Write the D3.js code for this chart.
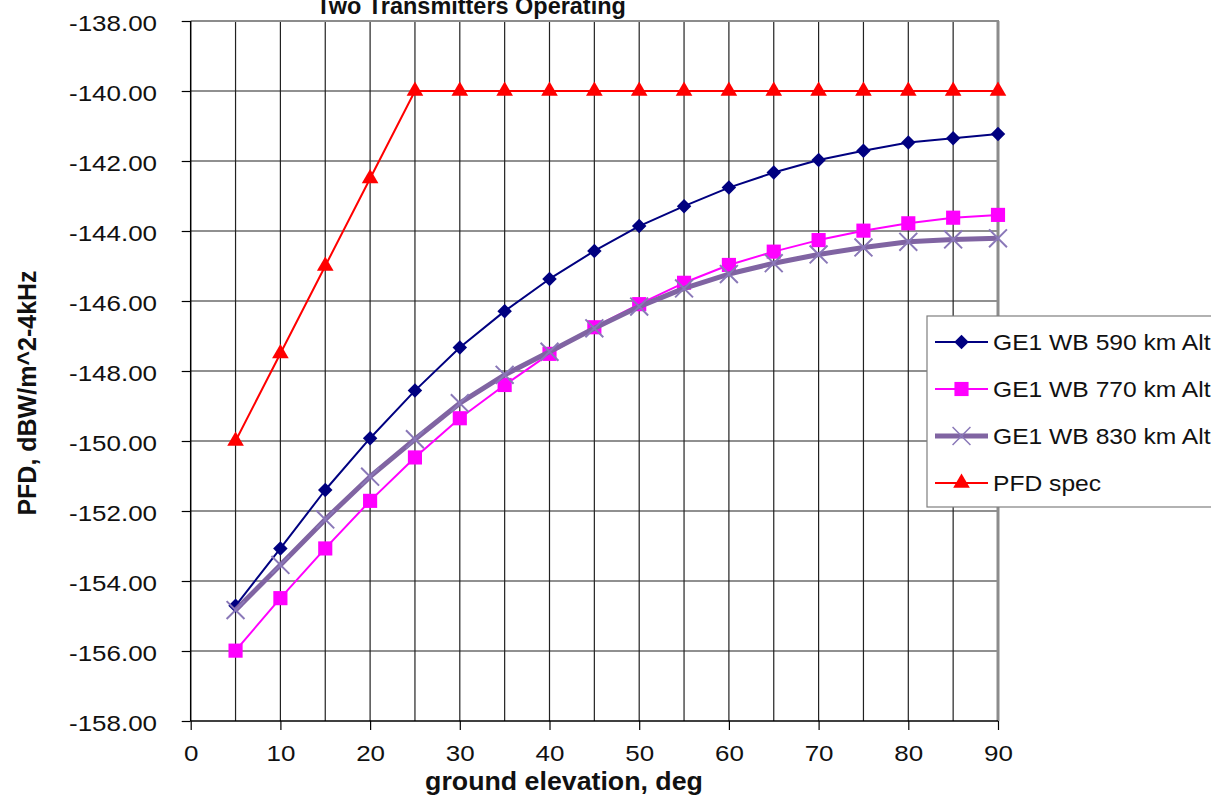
<!DOCTYPE html>
<html>
<head>
<meta charset="utf-8">
<script src="https://cdn.jsdelivr.net/npm/d3@7"></script>
<style>
    body { margin: 0; background: #fff; }
    svg { display: block; font-family: "Liberation Sans", Arial, sans-serif; }
</style>
</head>
<body>
<svg id="chart" width="1211" height="801"></svg>
<script>
// elevation angles, deg
var elevation = [5, 10, 15, 20, 25, 30, 35, 40, 45, 50, 55, 60, 65, 70, 75, 80, 85, 90];

var alt590 = [-154.71, -153.07, -151.40, -149.92, -148.56, -147.33, -146.29, -145.37, -144.57,
    -143.86, -143.29, -142.76, -142.33, -141.97, -141.71, -141.47, -141.35, -141.23];
var alt770 = [-155.99, -154.49, -153.07, -151.71, -150.47, -149.35, -148.40, -147.51, -146.75,
    -146.09, -145.48, -144.97, -144.59, -144.26, -143.99, -143.78, -143.62, -143.54];
var alt830 = [-154.83, -153.54, -152.24, -151.02, -149.95, -148.92, -148.11, -147.45, -146.78,
    -146.16, -145.64, -145.23, -144.92, -144.67, -144.47, -144.31, -144.24, -144.21];
var pfdSpec = [-150, -147.5, -145, -142.5, -140, -140, -140, -140, -140,
    -140, -140, -140, -140, -140, -140, -140, -140, -140];

var seriesNames = ['GE1 WB 590 km Alt', 'GE1 WB 770 km Alt', 'GE1 WB 830 km Alt', 'PFD spec'];

var xTicks = [0, 10, 20, 30, 40, 50, 60, 70, 80, 90];
var xGrid = [5, 10, 15, 20, 25, 30, 35, 40, 45, 50, 55, 60, 65, 70, 75, 80, 85];
var yTicks = [-158, -156, -154, -152, -150, -148, -146, -144, -142, -140, -138];

var plotLeft = 190.7, plotRight = 998, plotTop = 21, plotBottom = 721;

var svg = d3.select('#chart');

var x = d3.scaleLinear().domain([0, 90]).range([plotLeft, plotRight]);
var y = d3.scaleLinear().domain([-158, -138]).range([plotBottom, plotTop]);

// x marker as a custom symbol type
var symbolCross = {
    draw: function (ctx, size) {
        var r = Math.sqrt(size) / 2;
        ctx.moveTo(-r, -r);
        ctx.lineTo(r, r);
        ctx.moveTo(r, -r);
        ctx.lineTo(-r, r);
    }
};

var styles = [
    { color: '#000080', width: 2, symbol: d3.symbolSquare, size: 105, rotate: 45, fill: '#000080' },
    { color: '#ff00ff', width: 2, symbol: d3.symbolSquare, size: 200, rotate: 0, fill: '#ff00ff' },
    { color: '#8064a2', width: 5, symbol: symbolCross, size: 320, rotate: 0, fill: 'none', mstroke: '#8a78b8' },
    { color: '#ff0000', width: 2, symbol: d3.symbolTriangle, size: 120, rotate: 0, fill: '#ff0000' }
];

var seriesValues = [alt590, alt770, alt830, pfdSpec];

// gridlines
var grid = svg.append('g');
grid.selectAll('.hg')
    .data(yTicks.slice(1, -1))
    .enter()
    .append('line')
    .attr('x1', plotLeft).attr('x2', plotRight)
    .attr('y1', function (d) { return y(d); })
    .attr('y2', function (d) { return y(d); })
    .attr('stroke', '#222')
    .attr('stroke-width', 1.2);

grid.selectAll('.vg')
    .data(xGrid)
    .enter()
    .append('line')
    .attr('y1', plotTop).attr('y2', plotBottom)
    .attr('x1', function (d) { return x(d); })
    .attr('x2', function (d) { return x(d); })
    .attr('stroke', '#222')
    .attr('stroke-width', 1.2);

// frame: gray top and right
svg.append('line')
    .attr('x1', plotLeft).attr('x2', plotRight + 1).attr('y1', plotTop).attr('y2', plotTop)
    .attr('stroke', '#8c8c8c').attr('stroke-width', 2);
svg.append('line')
    .attr('x1', plotRight).attr('x2', plotRight).attr('y1', plotTop).attr('y2', plotBottom)
    .attr('stroke', '#8c8c8c').attr('stroke-width', 3);

// axes
var yAxis = d3.axisLeft(y)
    .tickValues(yTicks)
    .tickSize(9)
    .tickFormat(function (d) { return d.toFixed(2); });

var xAxis = d3.axisBottom(x)
    .tickValues(xTicks)
    .tickSize(9)
    .tickFormat(d3.format('d'));

var gy = svg.append('g')
    .attr('transform', 'translate(' + plotLeft + ',0)')
    .call(yAxis);
gy.select('.domain').attr('stroke', '#000').attr('stroke-width', 1.5).attr('d', 'M0,' + plotTop + 'V' + plotBottom);
gy.selectAll('.tick line').attr('stroke', '#000').attr('stroke-width', 1.2);
gy.selectAll('.tick text')
    .attr('font-size', 22)
    .attr('fill', '#111')
    .attr('x', null)
    .attr('dy', null)
    .attr('text-anchor', 'end')
    .attr('transform', 'translate(-33.7,9.5) scale(1.18,1)');

var gx = svg.append('g')
    .attr('transform', 'translate(0,' + plotBottom + ')')
    .call(xAxis);
gx.select('.domain').attr('stroke', '#000').attr('stroke-width', 1.5).attr('d', 'M' + plotLeft + ',0H' + plotRight);
gx.selectAll('.tick line').attr('stroke', '#000').attr('stroke-width', 1.2);
gx.selectAll('.tick text')
    .attr('font-size', 22)
    .attr('fill', '#111')
    .attr('y', null)
    .attr('dy', null)
    .attr('transform', 'translate(0,40) scale(1.18,1)');

// series
var line = d3.line()
    .x(function (d) { return x(d[0]); })
    .y(function (d) { return y(d[1]); });

seriesValues.forEach(function (vals, i) {
    var st = styles[i];
    var pts = elevation.map(function (e, j) { return [e, vals[j]]; });
    var g = svg.append('g');

    g.append('path')
        .datum(pts)
        .attr('fill', 'none')
        .attr('stroke', st.color)
        .attr('stroke-width', st.width)
        .attr('stroke-linejoin', 'round')
        .attr('d', line);

    g.selectAll('.m')
        .data(pts)
        .enter()
        .append('path')
        .attr('transform', function (d) {
            return 'translate(' + x(d[0]) + ',' + y(d[1]) + ') rotate(' + st.rotate + ')';
        })
        .attr('d', d3.symbol().type(st.symbol).size(st.size))
        .attr('fill', st.fill)
        .attr('stroke', st.mstroke || 'none')
        .attr('stroke-width', 2);
});

// title
svg.append('text')
    .attr('transform', 'translate(471,14) scale(1.02,1)')
    .attr('text-anchor', 'middle')
    .attr('font-size', 23)
    .attr('font-weight', 'bold')
    .attr('fill', '#111')
    .text('Two Transmitters Operating');

// axis titles
svg.append('text')
    .attr('transform', 'translate(564,790) scale(1.07,1)')
    .attr('text-anchor', 'middle')
    .attr('font-size', 25)
    .attr('font-weight', 'bold')
    .attr('fill', '#111')
    .text('ground elevation, deg');

svg.append('text')
    .attr('transform', 'translate(36,393) rotate(-90)')
    .attr('text-anchor', 'middle')
    .attr('font-size', 25)
    .attr('font-weight', 'bold')
    .attr('fill', '#111')
    .text('PFD, dBW/m^2-4kHz');

// legend
var legend = svg.append('g').attr('transform', 'translate(927,316)');
legend.append('rect')
    .attr('x', 0).attr('y', 0)
    .attr('width', 300).attr('height', 191)
    .attr('fill', '#fff')
    .attr('stroke', '#7f7f7f')
    .attr('stroke-width', 1.2);

var legendY = d3.scalePoint().domain(seriesNames).range([26, 167]);

seriesNames.forEach(function (name, i) {
    var st = styles[i];
    var ly = legendY(name);
    legend.append('line')
        .attr('x1', 8).attr('x2', 61)
        .attr('y1', ly).attr('y2', ly)
        .attr('stroke', st.color)
        .attr('stroke-width', st.width);
    legend.append('path')
        .attr('transform', 'translate(34.5,' + ly + ') rotate(' + st.rotate + ')')
        .attr('d', d3.symbol().type(st.symbol).size(st.size))
        .attr('fill', st.fill)
        .attr('stroke', st.mstroke || 'none')
        .attr('stroke-width', 1.5);
    legend.append('text')
        .attr('transform', 'translate(66,' + (ly + 8) + ') scale(1.12,1)')
        .attr('font-size', 22)
        .attr('fill', '#111')
        .text(name);
});
</script>
</body>
</html>
